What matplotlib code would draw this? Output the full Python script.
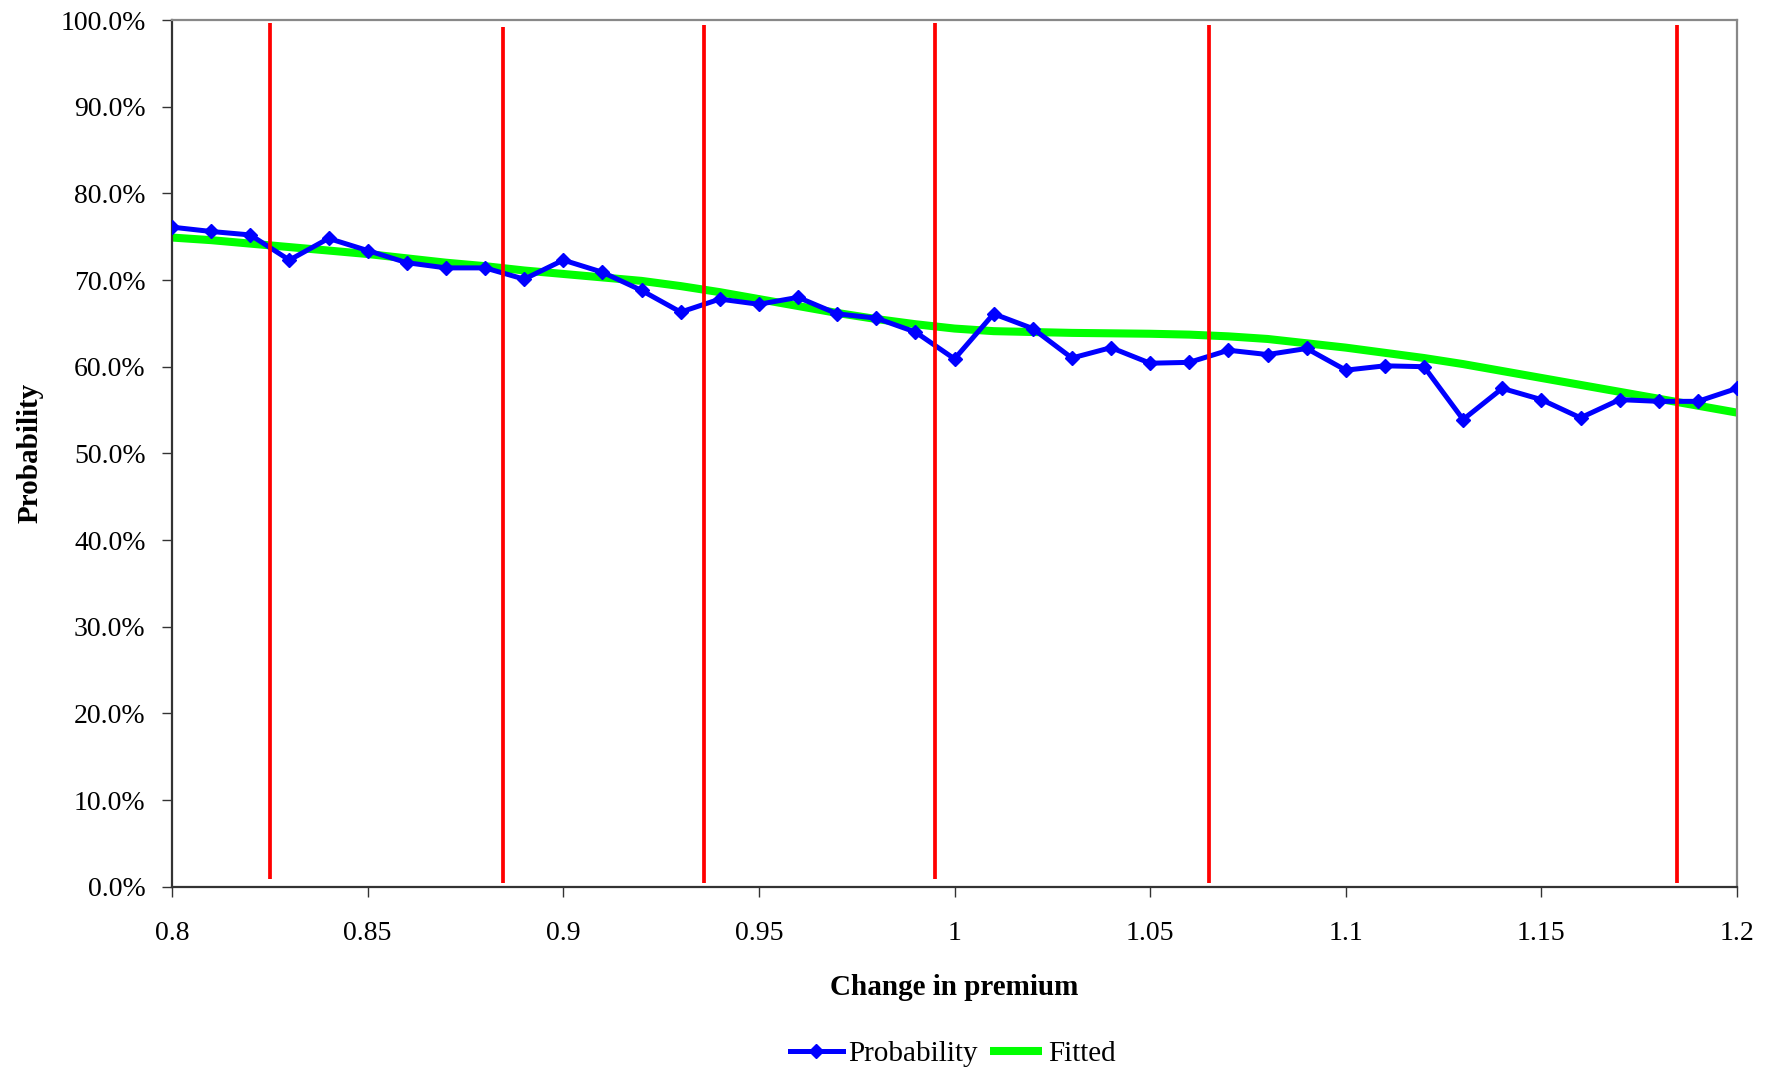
import numpy as np
import matplotlib
matplotlib.use("Agg")
import matplotlib.pyplot as plt
from matplotlib.ticker import MultipleLocator, PercentFormatter, FuncFormatter

# change in premium (x) and observed probability (%)
premium = [0.80, 0.81, 0.82, 0.83, 0.84, 0.85, 0.86, 0.87, 0.88, 0.89,
           0.90, 0.91, 0.92, 0.93, 0.94, 0.95, 0.96, 0.97, 0.98, 0.99,
           1.00, 1.01, 1.02, 1.03, 1.04, 1.05, 1.06, 1.07, 1.08, 1.09,
           1.10, 1.11, 1.12, 1.13, 1.14, 1.15, 1.16, 1.17, 1.18, 1.19, 1.20]

probability = [76.1, 75.6, 75.2, 72.3, 74.8, 73.4, 72.0, 71.4, 71.4, 70.1,
               72.3, 70.9, 68.8, 66.3, 67.8, 67.2, 68.0, 66.1, 65.6, 64.0,
               60.9, 66.1, 64.4, 61.0, 62.2, 60.4, 60.5, 61.9, 61.4, 62.1,
               59.6, 60.1, 60.0, 53.9, 57.5, 56.2, 54.1, 56.2, 56.0, 56.0, 57.5]

fitted = [74.9, 74.6, 74.2, 73.8, 73.4, 73.0, 72.5, 72.0, 71.6, 71.1,
          70.7, 70.3, 69.9, 69.3, 68.6, 67.8, 67.0, 66.2, 65.5, 64.9,
          64.4, 64.1, 64.0, 63.9, 63.85, 63.8, 63.7, 63.5, 63.2, 62.7,
          62.2, 61.6, 61.0, 60.3, 59.5, 58.7, 57.9, 57.1, 56.3, 55.5, 54.7]

# band boundaries (x) with their top / bottom extent in %
boundary_x = [0.825, 0.8845, 0.936, 0.995, 1.065, 1.1846]
boundary_top = [99.7, 99.2, 99.4, 99.7, 99.4, 99.4]
boundary_bottom = [0.85, 0.4, 0.45, 0.85, 0.45, 0.4]

plt.rcParams['font.family'] = ['Liberation Serif', 'DejaVu Serif']

fig = plt.figure(figsize=(17.81, 10.70), dpi=100)
ax = fig.add_axes([0.0966, 0.1713, 0.8787, 0.81])

ax.plot(premium, fitted, color='#00ff00', lw=5.8, solid_capstyle='butt',
        label='Fitted', zorder=2)
ax.plot(premium, probability, color='#0000ff', lw=3.6, marker='D',
        markersize=7, label='Probability', zorder=3)
ax.vlines(boundary_x, boundary_bottom, boundary_top, color='#ff0000',
          lw=2.7, zorder=4)

ax.set_xlim(0.8, 1.2)
ax.set_ylim(0, 100)
ax.xaxis.set_major_locator(MultipleLocator(0.05))
ax.xaxis.set_major_formatter(FuncFormatter(lambda v, p: f'{round(v, 2):g}'))
ax.yaxis.set_major_locator(MultipleLocator(10))
ax.yaxis.set_major_formatter(PercentFormatter(xmax=100, decimals=1))

ax.tick_params(axis='both', labelsize=20, length=7, width=1.0,
               direction='out', color='#333333')
ax.tick_params(axis='x', pad=18)
ax.tick_params(axis='y', pad=12)

for side in ['left', 'bottom']:
    ax.spines[side].set_color('#333333')
    ax.spines[side].set_linewidth(1.6)
for side in ['top', 'right']:
    ax.spines[side].set_color('#888888')
    ax.spines[side].set_linewidth(1.6)

ax.set_xlabel('Change in premium', fontsize=21, fontweight='bold', labelpad=20)
ax.set_ylabel('Probability', fontsize=21, fontweight='bold', labelpad=12)

handles, labels = ax.get_legend_handles_labels()
fig.legend(handles[::-1], labels[::-1], loc='center', bbox_to_anchor=(0.535, 0.015),
           ncol=2, frameon=False, fontsize=21, handlelength=1.8,
           handletextpad=0.2, columnspacing=0.4)

fig.savefig('out.png', dpi=100)
